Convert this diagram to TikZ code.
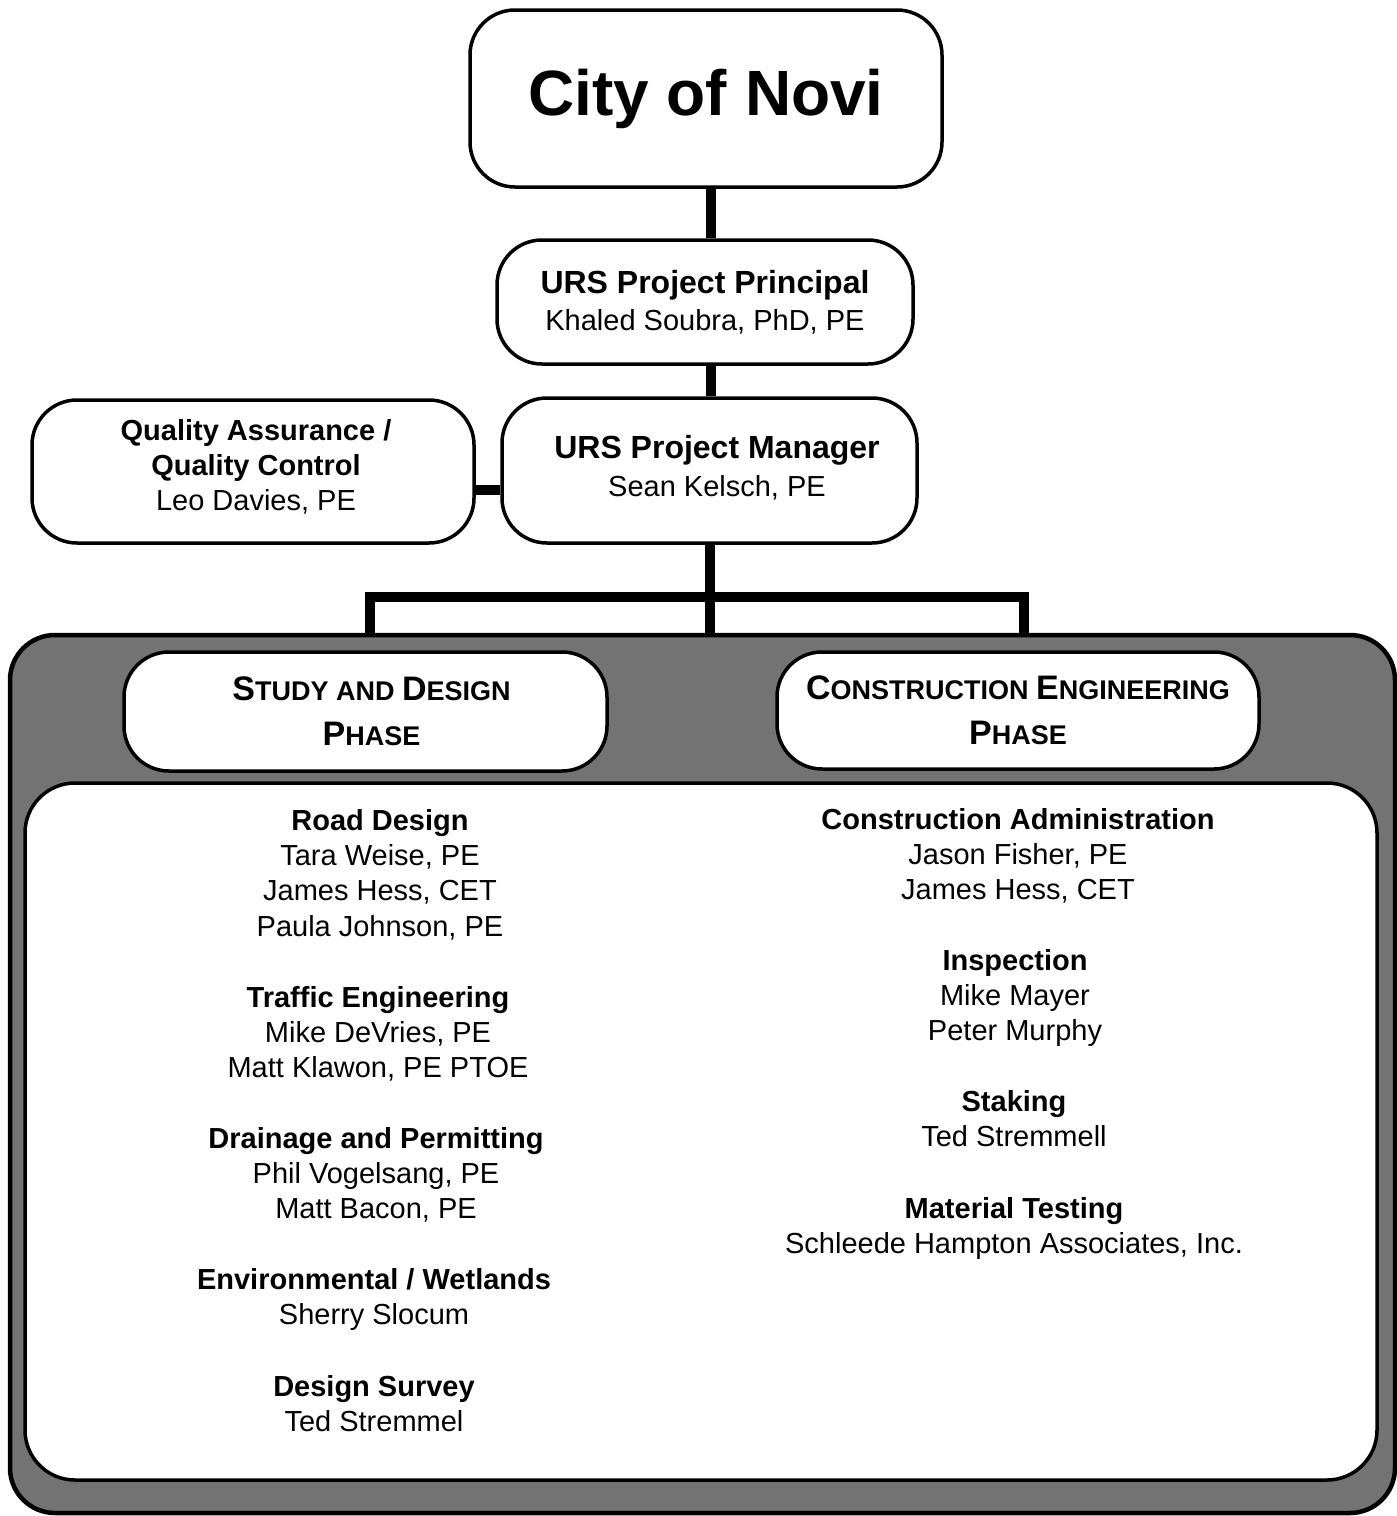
\documentclass[tikz,border=0pt]{standalone}
\usepackage{fontspec}
\setmainfont{Liberation Sans}
\newcommand{\scbig}[1]{{\fontsize{34}{40}\selectfont #1}}
\begin{document}
\begin{tikzpicture}[x=1pt,y=-1pt,
  box/.style={draw=black, line width=3.5pt, fill=white, rounded corners=45pt, align=center, inner sep=0pt},
  conn/.style={line width=10pt, draw=black, line join=miter},
  lbl/.style={align=center, inner sep=0pt},
  txt/.style={align=center, inner sep=0pt, anchor=north, font=\fontsize{29}{35.3}\selectfont}]
\useasboundingbox (0,0) rectangle (1397,1516);
\fill[white] (0,0) rectangle (1397,1516);

% outer phase frame
\node[draw=black, line width=4.5pt, fill=black!55, rounded corners=45pt, minimum width=1385pt, minimum height=878pt, inner sep=0pt] (outer) at (702.5,1074) {};
\node[draw=black, line width=3.5pt, fill=white, rounded corners=50pt, minimum width=1352pt, minimum height=697pt, inner sep=0pt] (inner) at (701,1131.5) {};

% top boxes
\node[box, minimum width=472pt, minimum height=177pt, font=\bfseries\fontsize{64}{70}\selectfont] (city) at (706,98.5) {City of Novi};
\node[box, minimum width=416pt, minimum height=124pt, font=\fontsize{29}{37}\selectfont] (principal) at (705,302)
  {{\bfseries\fontsize{32}{37}\selectfont URS Project Principal}\\Khaled Soubra, PhD, PE};
\node[box, minimum width=415pt, minimum height=145pt] (manager) at (709.5,470.5) {};
\node[lbl, font=\fontsize{29}{38}\selectfont] (managertext) at (717,468)
  {{\bfseries\fontsize{32}{38}\selectfont URS Project Manager}\\Sean Kelsch, PE};
\node[box, minimum width=442pt, minimum height=143pt] (qa) at (253,471.5) {};
\node[lbl, font=\fontsize{29}{35}\selectfont] (qatext) at (256,466.5)
  {{\bfseries Quality Assurance /}\\{\bfseries Quality Control}\\Leo Davies, PE};

% phase boxes
\node[box, minimum width=483pt, minimum height=119pt] (study) at (365.5,711.5) {};
\node[lbl, font=\bfseries\fontsize{27}{45}\selectfont] (studytext) at (371.5,711.5)
  {\scbig{S}TUDY AND \scbig{D}ESIGN\\\scbig{P}HASE};
\node[box, minimum width=482pt, minimum height=117pt, font=\bfseries\fontsize{27}{45}\selectfont] (constr) at (1018,710.5)
  {\scbig{C}ONSTRUCTION \scbig{E}NGINEERING\\\scbig{P}HASE};

% connectors
\coordinate (bus) at (709,597);
\draw[conn] ([xshift=5pt]city.south) -- ([xshift=5pt]city.south |- principal.north);
\draw[conn] ([xshift=6pt]principal.south) -- ([xshift=6pt]principal.south |- manager.north);
\draw[conn] ([yshift=-18.5pt]qa.east) -- ([yshift=-18.5pt]qa.east -| manager.west);
\draw[conn] (manager.south) -- (manager.south |- outer.north);
\draw[conn] ([xshift=4.5pt]study.north |- outer.north) -- ([xshift=4.5pt]study.north |- bus)
  -- ([xshift=6pt]constr.north |- bus) -- ([xshift=6pt]constr.north |- outer.north);

% left column
\node[txt] (roaddesign) at (380,809) {{\bfseries Road Design}\\Tara Weise, PE\\James Hess, CET\\Paula Johnson, PE};
\node[txt] (traffic) at (378,986) {{\bfseries Traffic Engineering}\\Mike DeVries, PE\\Matt Klawon, PE PTOE};
\node[txt] (drainage) at (376,1127) {{\bfseries Drainage and Permitting}\\Phil Vogelsang, PE\\Matt Bacon, PE};
\node[txt] (environ) at (374,1268) {{\bfseries Environmental / Wetlands}\\Sherry Slocum};
\node[txt] (survey) at (374,1375) {{\bfseries Design Survey}\\Ted Stremmel};

% right column
\node[txt] (constadmin) at (1018,808) {{\bfseries Construction Administration}\\Jason Fisher, PE\\James Hess, CET};
\node[txt] (inspection) at (1015,949) {{\bfseries Inspection}\\Mike Mayer\\Peter Murphy};
\node[txt] (staking) at (1014,1090) {{\bfseries Staking}\\Ted Stremmell};
\node[txt] (material) at (1014,1197) {{\bfseries Material Testing}\\Schleede Hampton Associates, Inc.};
\end{tikzpicture}
\end{document}
